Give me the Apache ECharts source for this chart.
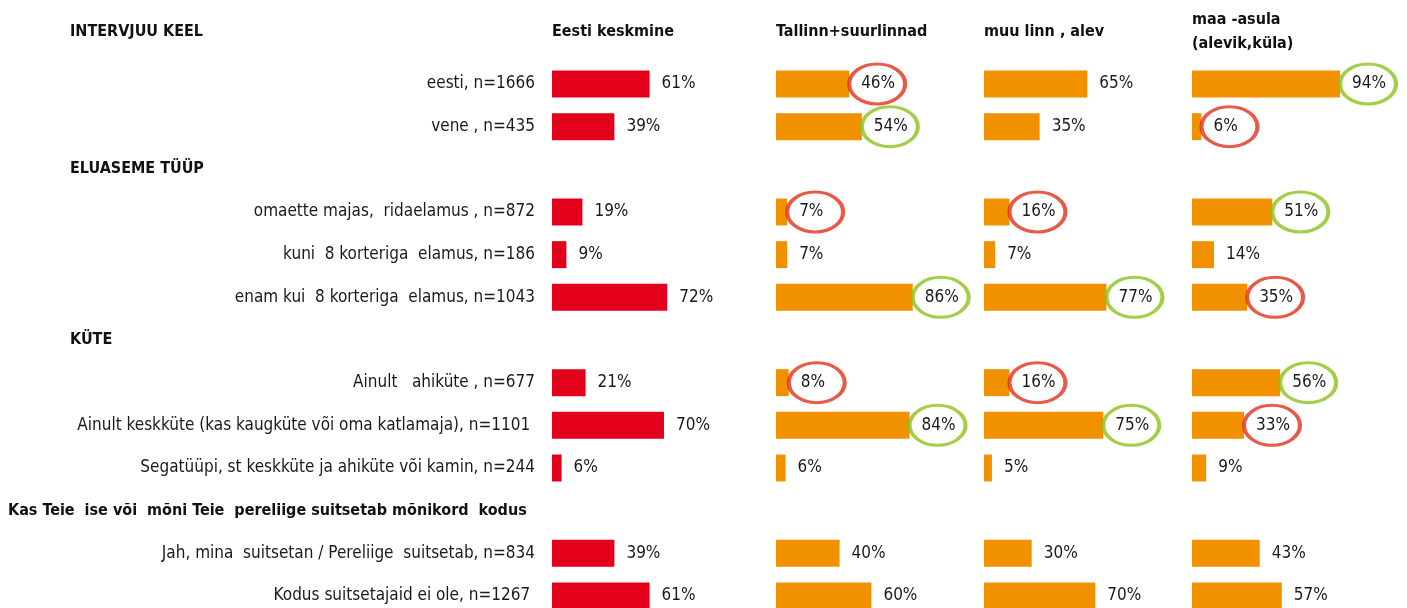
<!DOCTYPE html>
<html lang="et">
<head>
    <meta charset="UTF-8">
    <title>Intervjuu keel, eluaseme tüüp, küte</title>
    <script src="https://cdn.jsdelivr.net/npm/echarts@6/dist/echarts.min.js"></script>
    <style>
        html, body { margin: 0; padding: 0; background: #fff; }
        #chart { width: 1407px; height: 608px; }
    </style>
</head>
<body>
    <div id="chart"></div>

    <script>
        // null = section heading row
        const categories = [
            'eesti, n=1666',
            'vene , n=435',
            'ELUASEME TÜÜP',
            'omaette majas,  ridaelamus , n=872',
            'kuni  8 korteriga  elamus, n=186',
            'enam kui  8 korteriga  elamus, n=1043',
            'KÜTE',
            'Ainult   ahiküte , n=677',
            'Ainult keskküte (kas kaugküte või oma katlamaja), n=1101 ',
            'Segatüüpi, st keskküte ja ahiküte või kamin, n=244',
            'Kas Teie  ise või  mõni Teie  pereliige suitsetab mõnikord  kodus',
            'Jah, mina  suitsetan / Pereliige  suitsetab, n=834',
            'Kodus suitsetajaid ei ole, n=1267 '
        ];
        const headingRows = [2, 6, 10];

        const eesti   = [61, 39, null, 19, 9, 72, null, 21, 70, 6, null, 39, 61];
        const tallinn = [46, 54, null, 7, 7, 86, null, 8, 84, 6, null, 40, 60];
        const muuLinn = [65, 35, null, 16, 7, 77, null, 16, 75, 5, null, 30, 70];
        const maa     = [94, 6, null, 51, 14, 35, null, 56, 33, 9, null, 43, 57];

        // r = red ring (below average), g = green ring (above)
        const tallinnRing = ['r', 'g', '', 'r', '', 'g', '', 'r', 'g', '', '', '', ''];
        const muuRing     = ['', '', '', 'r', '', 'g', '', 'r', 'g', '', '', '', ''];
        const maaRing     = ['g', 'r', '', 'g', '', 'r', '', 'g', 'r', '', '', '', ''];

        const FONT = '"Liberation Sans Narrow", "DejaVu Sans Condensed", sans-serif';
        const RED = '#E2001A', ORANGE = '#F29100';
        const RING = { r: '#E3301A', g: '#8BC21A' };

        const panels = [
            { name: 'Eesti keskmine', left: 552, width: 160, data: eesti, ring: null, color: RED },
            { name: 'Tallinn+suurlinnad', left: 776, width: 159, data: tallinn, ring: tallinnRing, color: ORANGE },
            { name: 'muu linn , alev', left: 984, width: 159, data: muuLinn, ring: muuRing, color: ORANGE },
            { name: 'maa -asula\n(alevik,küla)', left: 1192, width: 157.5, data: maa, ring: maaRing, color: ORANGE }
        ];

        // rows sit on the category ticks (boundaryGap off): first at y=84, last at y=596
        const rowTop = 84, rowsHeight = 512;

        const grid = [], xAxis = [], yAxis = [], series = [], title = [];

        const headStyle = { fontFamily: FONT, fontSize: 16, fontWeight: 'bold', color: '#111', lineHeight: 24 };

        title.push({ text: 'INTERVJUU KEEL', left: 70, top: 20, padding: 0, textStyle: headStyle });

        panels.forEach((p, i) => {
            grid.push({ left: p.left, top: rowTop, width: p.width, height: rowsHeight });
            xAxis.push({ type: 'value', gridIndex: i, min: 0, max: 100, show: false });
            yAxis.push({
                type: 'category', gridIndex: i, inverse: true, data: categories, boundaryGap: false,
                axisLine: { show: false }, axisTick: { show: false }, splitLine: { show: false },
                axisLabel: i === 0 ? {
                    margin: 17, fontFamily: FONT, fontSize: 17, color: '#1a1a1a', interval: 0,
                    formatter: (v, idx) => {
                        if (headingRows.includes(idx)) {
                            return idx === 10 ? '{wide|' + v + '}' : '{head|' + v + '}';
                        }
                        return v;
                    },
                    rich: {
                        head: { width: 465, align: 'left', fontWeight: 'bold', fontFamily: FONT, fontSize: 16, color: '#111' },
                        wide: { width: 527, align: 'left', fontWeight: 'bold', fontFamily: FONT, fontSize: 16, color: '#111' }
                    }
                } : { show: false }
            });

            const twoLines = p.name.indexOf('\n') >= 0;
            title.push({
                text: p.name, left: p.left, top: twoLines ? 8 : 20, padding: 0,
                textStyle: headStyle
            });

            series.push({
                type: 'bar', xAxisIndex: i, yAxisIndex: i, barWidth: 27,
                itemStyle: { color: p.color },
                data: p.data,
                label: {
                    show: true, position: 'right', distance: 12,
                    fontFamily: FONT, fontSize: 17, color: '#1a1a1a',
                    formatter: (d) => d.value == null ? '' : d.value + '%'
                },
                silent: true, animation: false
            });

            if (p.ring) {
                series.push({
                    type: 'scatter', xAxisIndex: i, yAxisIndex: i,
                    symbol: 'circle', symbolSize: [56, 40], symbolOffset: [28, 0],
                    data: p.data.map((v, k) => p.ring[k] ? {
                        value: [v, k],
                        itemStyle: { color: 'rgba(0,0,0,0)', borderColor: RING[p.ring[k]], borderWidth: 3.5 }
                    } : null).filter(Boolean),
                    z: 5, silent: true, animation: false
                });
            }
        });

        const chart = echarts.init(document.getElementById('chart'));
        chart.setOption({
            animation: false,
            backgroundColor: '#fff',
            title: title,
            grid: grid,
            xAxis: xAxis,
            yAxis: yAxis,
            series: series
        });
    </script>
</body>
</html>
